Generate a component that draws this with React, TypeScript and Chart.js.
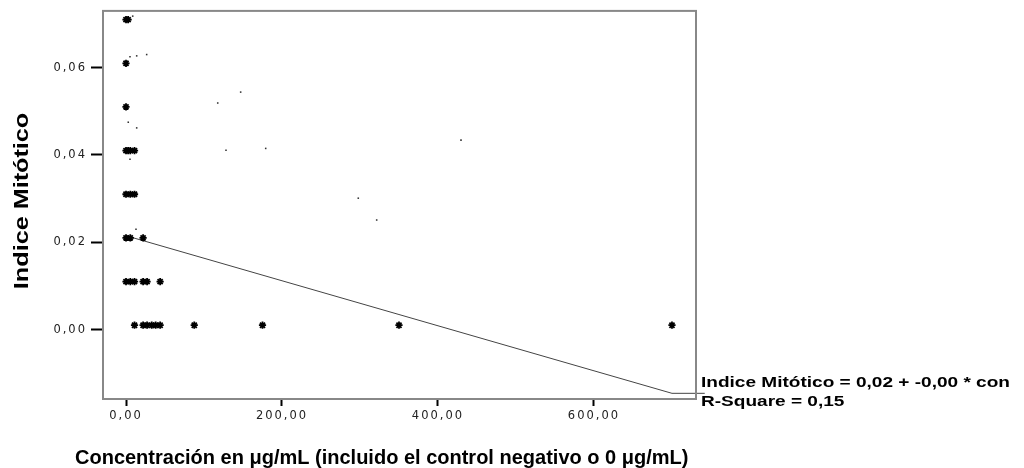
import React, { useEffect, useRef } from "react";
import { Chart, registerables } from "chart.js";

Chart.register(...registerables);

// Observed data: concentration (µg/mL) and mitotic index
const starX = [0, 2.7, 0, 0, 0, 2.7, 5.5, 10.9, 0, 5.5, 10.9, 0, 5.5, 21.9, 0, 5.5, 10.9, 21.9, 27, 43.75, 10.9, 21.9, 27, 33, 38, 43.75, 87.5, 175, 350, 700];
const starY = [0.071, 0.071, 0.061, 0.051, 0.041, 0.041, 0.041, 0.041, 0.031, 0.031, 0.031, 0.021, 0.021, 0.021, 0.011, 0.011, 0.011, 0.011, 0.011, 0.011, 0.001, 0.001, 0.001, 0.001, 0.001, 0.001, 0.001, 0.001, 0.001, 0.001];

// Small scattered dots
const dotX = [8.6, 5.1, 13.7, 26.5, 147, 117.6, 2.9, 13.7, 128.2, 179.1, 5.1, 429.5, 297.8, 321.4, 12.8];
const dotY = [0.0718, 0.0625, 0.0627, 0.063, 0.0544, 0.0519, 0.0475, 0.0462, 0.0411, 0.0415, 0.039, 0.0434, 0.0301, 0.0251, 0.023];

// Fitted regression line (endpoints) and label stub
const fitX = [0, 700, 742];
const fitY = [0.0215, -0.0146, -0.0146];

const xTicks = [0, 200, 400, 600];
const yTicks = [0, 0.02, 0.04, 0.06];

const fitLabel1 = "Indice Mitótico = 0,02 + -0,00 * con";
const fitLabel2 = "R-Square = 0,15";
const xTitle = "Concentración en μg/mL (incluido el control negativo o 0 μg/mL)";
const yTitle = "Indice Mitótico";

const fmt = (v: number) => Number(v).toFixed(2).replace(".", ",");

const textPlugin = {
  id: "frameAndText",
  beforeDraw(chart: any) {
    chart.ctx.letterSpacing = "2px";
  },
  beforeDatasetsDraw(chart: any) {
    chart.ctx.letterSpacing = "0px";
  },
  afterDraw(chart: any) {
    const { ctx, chartArea, scales } = chart;
    ctx.save();
    ctx.letterSpacing = "0px";
    // frame
    ctx.strokeStyle = "#888";
    ctx.lineWidth = 2;
    ctx.strokeRect(chartArea.left, chartArea.top, chartArea.right - chartArea.left, chartArea.bottom - chartArea.top);

    ctx.fillStyle = "#000";
    ctx.textBaseline = "alphabetic";
    ctx.textAlign = "left";

    // regression label
    const yStub = scales.y.getPixelForValue(fitY[fitY.length - 1]);
    ctx.save();
    ctx.translate(chartArea.right + 5, 0);
    ctx.scale(1.36, 1);
    ctx.font = "bold 14px 'Liberation Sans', Arial, sans-serif";
    ctx.fillText(fitLabel1, 0, yStub - 6);
    ctx.fillText(fitLabel2, 0, yStub + 13);
    ctx.restore();

    // x title
    ctx.font = "bold 20px 'Liberation Sans', Arial, sans-serif";
    ctx.fillText(xTitle, chartArea.left - 28, 464);

    // y title
    ctx.save();
    ctx.translate(28, (chartArea.top + chartArea.bottom) / 2 - 4);
    ctx.rotate(-Math.PI / 2);
    ctx.scale(1.2, 1);
    ctx.textAlign = "center";
    ctx.font = "bold 21px 'Liberation Sans', Arial, sans-serif";
    ctx.fillText(yTitle, 0, 0);
    ctx.restore();

    ctx.restore();
  },
};

export default function App() {
  const ref = useRef<HTMLCanvasElement | null>(null);
  useEffect(() => {
    if (!ref.current) return;
    const tickFont = { family: "'DejaVu Sans', sans-serif", size: 11.5 };
    const chart = new Chart(ref.current, {
      type: "scatter",
      data: {
        datasets: [
          {
            type: "line",
            data: fitX.map((x, i) => ({ x, y: fitY[i] })),
            borderColor: "#444",
            borderWidth: 1,
            pointRadius: 0,
            fill: false,
            clip: false,
            order: 3,
          } as any,
          {
            data: dotX.map((x, i) => ({ x, y: dotY[i] })),
            pointStyle: "rect",
            pointRadius: 1.1,
            backgroundColor: "#333",
            borderWidth: 0,
            order: 2,
          },
          {
            data: starX.map((x, i) => ({ x, y: starY[i] })),
            pointStyle: "star",
            pointRadius: 3.6,
            borderColor: "#000",
            backgroundColor: "#000",
            borderWidth: 1.8,
            order: 1,
          },
        ],
      },
      options: {
        animation: false,
        responsive: false,
        layout: { padding: { left: 0, top: 9, right: 328, bottom: 0 } },
        plugins: { legend: { display: false }, tooltip: { enabled: false } },
        scales: {
          x: {
            type: "linear",
            min: -29.5,
            max: 730.8,
            afterBuildTicks: (s: any) => {
              s.ticks = xTicks.map((v) => ({ value: v }));
            },
            afterFit: (s: any) => {
              s.height = 69;
            },
            ticks: { callback: (v: any) => fmt(v), font: tickFont, color: "#222", padding: 3, maxRotation: 0 },
            grid: { drawOnChartArea: false, drawTicks: true, tickLength: 7, tickWidth: 2, tickColor: "#000" },
            border: { display: false },
          },
          y: {
            type: "linear",
            min: -0.0159,
            max: 0.073,
            afterBuildTicks: (s: any) => {
              s.ticks = yTicks.map((v) => ({ value: v }));
            },
            afterFit: (s: any) => {
              s.width = 103;
            },
            ticks: { callback: (v: any) => fmt(v), font: tickFont, color: "#222", padding: 4 },
            grid: { drawOnChartArea: false, drawTicks: true, tickLength: 12, tickWidth: 2, tickColor: "#000" },
            border: { display: false },
          },
        },
      },
      plugins: [textPlugin],
    });
    return () => chart.destroy();
  }, []);
  return (
    <div style={{ position: "fixed", left: 0, top: 0, width: 1024, height: 468, background: "#fff" }}>
      <canvas ref={ref} width={1024} height={468} />
    </div>
  );
}
